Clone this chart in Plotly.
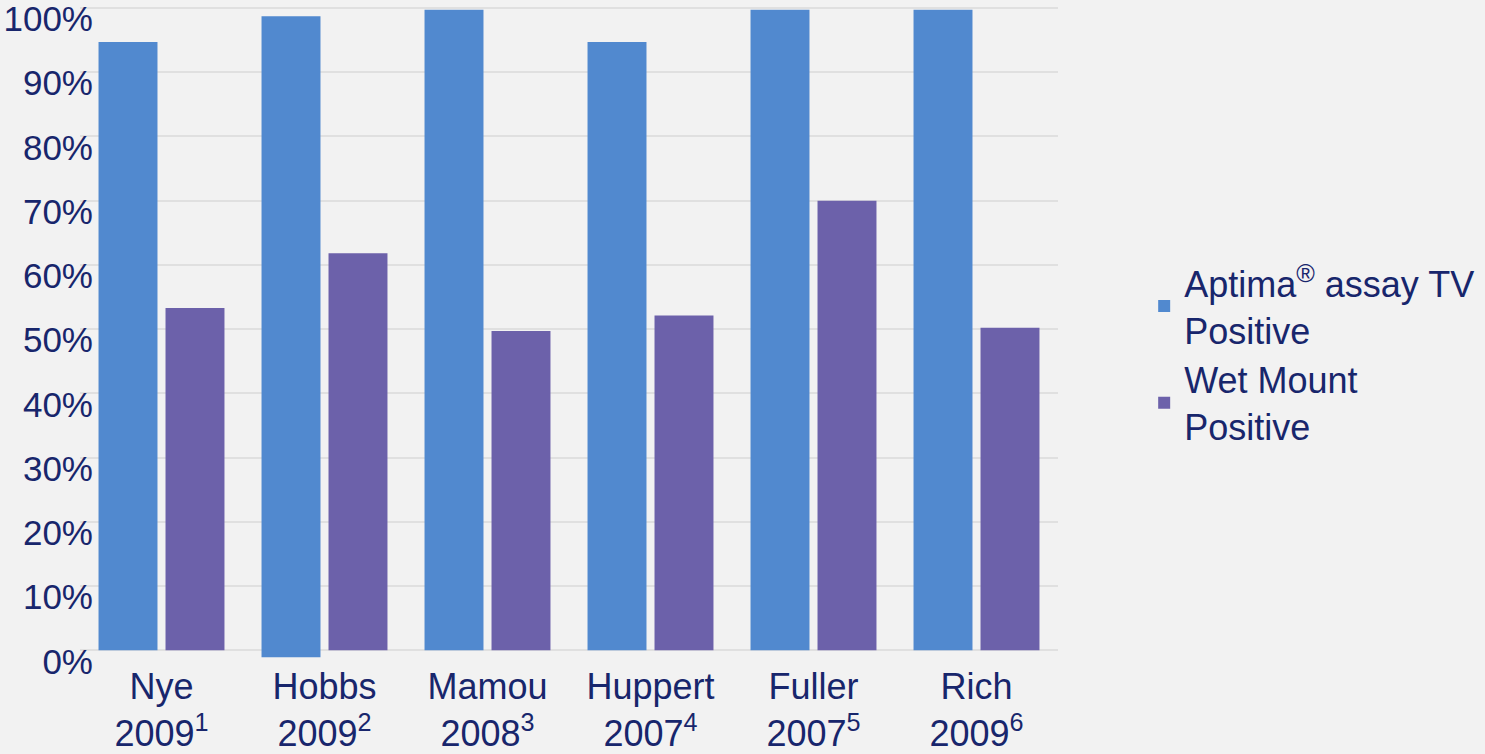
import plotly.graph_objects as go

# Study labels (author, year, reference number)
studies = ["Nye", "Hobbs", "Mamou", "Huppert", "Fuller", "Rich"]
years = ["2009", "2009", "2008", "2007", "2007", "2009"]
refs = ["1", "2", "3", "4", "5", "6"]

# Percent positive by method
aptima_top = [94.7, 98.7, 99.7, 94.7, 99.7, 99.7]
aptima_base = [0, -1.1, 0, 0, 0, 0]
wet_mount = [53.3, 61.8, 49.7, 52.1, 70.0, 50.2]

y_ticks = [0, 10, 20, 30, 40, 50, 60, 70, 80, 90, 100]

categories = [f"{s}<br>{y}<sup>{r}</sup>" for s, y, r in zip(studies, years, refs)]

NAVY = "#18266c"
FONT = "Liberation Sans, Arial, sans-serif"

fig = go.Figure()
fig.add_trace(go.Bar(
    name="Aptima<sup>®</sup> assay TV<br>Positive",
    x=categories,
    y=[t - b for t, b in zip(aptima_top, aptima_base)],
    base=aptima_base,
    marker=dict(color="#5189cf", line=dict(width=0)),
))
fig.add_trace(go.Bar(
    name="Wet Mount<br>Positive",
    x=categories,
    y=wet_mount,
    marker=dict(color="#6c61aa", line=dict(width=0)),
))

fig.update_layout(
    width=1485,
    height=754,
    margin=dict(l=80, r=426, t=6, b=96),
    paper_bgcolor="#f2f2f2",
    plot_bgcolor="#f2f2f2",
    barmode="group",
    bargap=0.178,
    bargroupgap=0.12,
    font=dict(family=FONT, size=36, color=NAVY),
    legend=dict(
        x=1.087, y=0.465, xanchor="left", yanchor="middle",
        font=dict(family=FONT, size=36, color=NAVY),
        bgcolor="rgba(0,0,0,0)",
        tracegroupgap=0,
    ),
    xaxis=dict(
        automargin=False,
        showgrid=False,
        zeroline=False,
        showline=False,
        ticks="",
        tickfont=dict(family=FONT, size=36, color=NAVY),
        ticklabelstandoff=4,
    ),
    yaxis=dict(
        automargin=False,
        range=[-1.2, 100.3],
        tickvals=y_ticks,
        ticktext=[f"{v}%" for v in y_ticks],
        showgrid=True,
        gridcolor="#e0e0e0",
        gridwidth=1.5,
        zeroline=False,
        showline=False,
        ticks="",
        tickfont=dict(family=FONT, size=35, color=NAVY),
        ticklabelstandoff=-14,
        ticklabelshift=11,
        ticklabeloverflow="allow",
    ),
)

fig.write_html("out.html")
